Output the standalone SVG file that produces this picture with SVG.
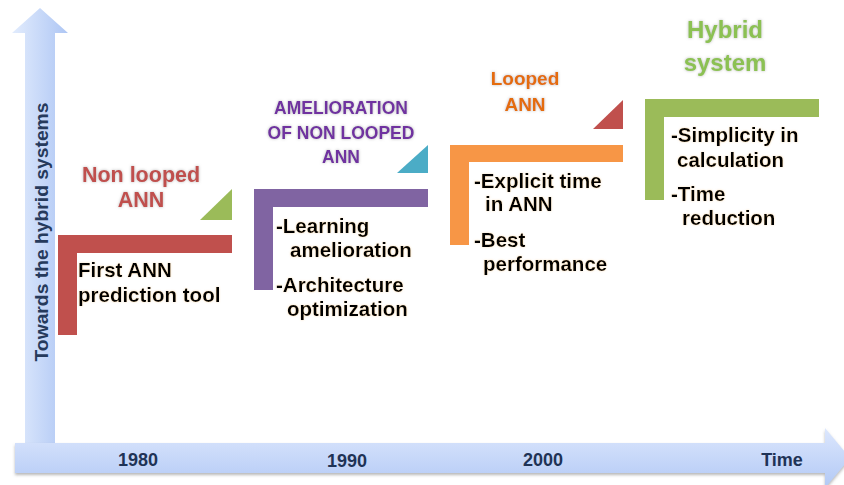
<svg xmlns="http://www.w3.org/2000/svg" width="844" height="485" viewBox="0 0 844 485">
<defs>
  <linearGradient id="gV" x1="0" y1="0" x2="1" y2="0">
    <stop offset="0" stop-color="#e2ecfd"/>
    <stop offset="1" stop-color="#aec6f4"/>
  </linearGradient>
  <linearGradient id="gH" x1="0" y1="0" x2="0" y2="1">
    <stop offset="0" stop-color="#dce7fd"/>
    <stop offset="1" stop-color="#b2c9f5"/>
  </linearGradient>
  <filter id="shadow" x="-5%" y="-5%" width="110%" height="130%">
    <feGaussianBlur in="SourceAlpha" stdDeviation="1.5"/>
    <feOffset dx="0" dy="2" result="b"/>
    <feFlood flood-color="#888" flood-opacity="0.6"/>
    <feComposite in2="b" operator="in"/>
    <feMerge><feMergeNode/><feMergeNode in="SourceGraphic"/></feMerge>
  </filter>
  <filter id="glow" x="-10%" y="-20%" width="120%" height="140%">
    <feGaussianBlur in="SourceAlpha" stdDeviation="1.6" result="b"/>
    <feFlood flood-color="#999" flood-opacity="0.7"/>
    <feComposite in2="b" operator="in"/>
    <feMerge><feMergeNode/><feMergeNode in="SourceGraphic"/></feMerge>
  </filter>
  <filter id="tglow" x="-10%" y="-20%" width="120%" height="140%">
    <feGaussianBlur in="SourceAlpha" stdDeviation="1.2" result="b"/>
    <feFlood flood-color="#f4c98a" flood-opacity="0.55"/>
    <feComposite in2="b" operator="in"/>
    <feMerge><feMergeNode/><feMergeNode in="SourceGraphic"/></feMerge>
  </filter>
</defs>
<style>
  text { font-family: "Liberation Sans", Arial, sans-serif; font-weight: bold; }
  .body { font-size: 20.5px; fill: #000; filter: url(#tglow); }
  .axis { font-size: 18px; fill: #1f3356; text-anchor: middle; }
  .title { text-anchor: middle; filter: url(#glow); }
</style>

<g id="connectors">
  <path id="y-axis" d="M25,460 L25,33 L12,33 L40,8 L68,33 L55,33 L55,460 Z" fill="url(#gV)"/>
  <path id="x-axis" d="M15,443 L825,443 L825,428 L850,458 L825,488 L825,473 L15,473 Z" fill="url(#gH)" filter="url(#shadow)"/>
</g>

<g id="y-label">
  <text transform="translate(48,232) rotate(-90)" text-anchor="middle" font-size="19" fill="#263a5c" textLength="259" lengthAdjust="spacingAndGlyphs">Towards the hybrid systems</text>
</g>

<g id="axis-labels">
  <text class="axis" x="138" y="466">1980</text>
  <text class="axis" x="347" y="467">1990</text>
  <text class="axis" x="543" y="466">2000</text>
  <text class="axis" x="782" y="466">Time</text>
</g>

<g id="node-1980">
  <path d="M58,235 H232 V253 H77 V335 H58 Z" fill="#c0504d"/>
  <polygon points="200,220 232,220 232,189" fill="#9bbb59"/>
  <text class="title" font-size="21.5" fill="#c0504d"><tspan x="141" y="182">Non looped</tspan><tspan x="141" y="207">ANN</tspan></text>
  <text class="body"><tspan x="78" y="277">First ANN</tspan><tspan x="78" y="302">prediction tool</tspan></text>
</g>

<g id="node-1990">
  <path d="M254,189 H428 V207 H273 V290 H254 Z" fill="#8064a2"/>
  <polygon points="397,173 428,173 428,145" fill="#4bacc6"/>
  <text class="title" font-size="17.5" fill="#7030a0"><tspan x="341" y="114">AMELIORATION</tspan><tspan x="341" y="139">OF NON LOOPED</tspan><tspan x="341" y="163">ANN</tspan></text>
  <text class="body"><tspan x="276" y="233">-Learning</tspan><tspan x="290" y="257">amelioration</tspan><tspan x="276" y="292">-Architecture</tspan><tspan x="287" y="316">optimization</tspan></text>
</g>

<g id="node-2000">
  <path d="M450,145 H623 V162 H469 V245 H450 Z" fill="#f79646"/>
  <polygon points="593,129 623,129 623,100" fill="#c0504d"/>
  <text class="title" font-size="19" fill="#e46c0a"><tspan x="525" y="85">Looped</tspan><tspan x="525" y="111">ANN</tspan></text>
  <text class="body"><tspan x="474" y="188">-Explicit time</tspan><tspan x="485" y="211">in ANN</tspan><tspan x="474" y="247">-Best</tspan><tspan x="483" y="271">performance</tspan></text>
</g>

<g id="node-hybrid">
  <path d="M645,99 H819 V117 H664 V200 H645 Z" fill="#9bbb59"/>
  <text class="title" font-size="24" fill="#8cc152"><tspan x="725" y="38">Hybrid</tspan><tspan x="725" y="71">system</tspan></text>
  <text class="body"><tspan x="671" y="142">-Simplicity in</tspan><tspan x="677" y="167">calculation</tspan><tspan x="671" y="201">-Time</tspan><tspan x="682" y="225">reduction</tspan></text>
</g>
</svg>
